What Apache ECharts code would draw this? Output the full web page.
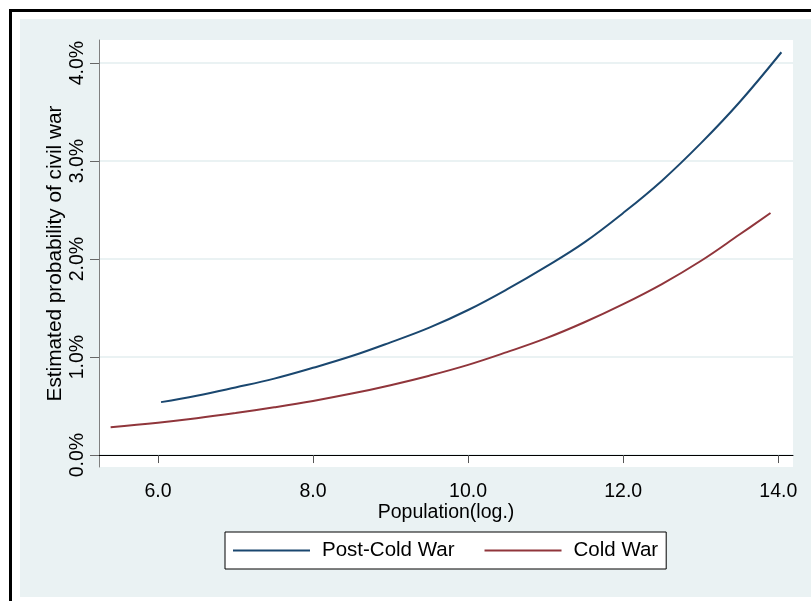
<!DOCTYPE html>
<html>
<head>
<meta charset="utf-8">
<script src="https://cdn.jsdelivr.net/npm/echarts@6/dist/echarts.min.js"></script>
<style>
    html, body {margin:0;padding:0;background:#fff;}
    #chart {width:811px;height:601px;}
</style>
</head>
<body>
<div id="chart"></div>
<script>
    // values
    var postX = [6.04, 6.5, 7.0, 7.5, 8.0, 8.5, 9.0, 9.5, 10.0, 10.5, 11.0, 11.5, 12.0, 12.5, 13.0, 13.5, 14.04];
    var postY = [0.54, 0.605, 0.69, 0.78, 0.89, 1.01, 1.15, 1.30, 1.48, 1.69, 1.92, 2.17, 2.47, 2.80, 3.18, 3.60, 4.11];
    var coldX = [5.39, 6.0, 6.5, 7.0, 7.5, 8.0, 8.5, 9.0, 9.5, 10.0, 10.5, 11.0, 11.5, 12.0, 12.5, 13.0, 13.5, 13.9];
    var coldY = [0.284, 0.33, 0.375, 0.428, 0.487, 0.552, 0.627, 0.713, 0.81, 0.92, 1.05, 1.19, 1.355, 1.54, 1.745, 1.98, 2.25, 2.47];
    var xTicks = [6, 8, 10, 12, 14];
    var yTicks = [0, 1, 2, 3, 4];
    var legendNames = ['Post-Cold War', 'Cold War'];

    var pairs = function (xs, ys) {
        return xs.map(function (x, i) { return [x, ys[i]]; });
    };

    var chart = echarts.init(document.getElementById('chart'));
    var font = 'Liberation Sans, Arial, sans-serif';

    var option = {
        backgroundColor: '#fff',
        animation: false,
        graphic: [
            {type: 'rect', z: -10, shape: {x: 20, y: 19, width: 791, height: 578}, style: {fill: '#eaf2f3'}},
            {type: 'rect', z: -10, shape: {x: 9, y: 9, width: 802, height: 3}, style: {fill: '#000'}},
            {type: 'rect', z: -10, shape: {x: 9, y: 9, width: 3, height: 592}, style: {fill: '#000'}}
        ],
        grid: {
            left: 99, right: 18, top: 40, bottom: 134,
            show: true, backgroundColor: '#fff', borderWidth: 0
        },
        legend: {
            data: legendNames,
            left: 225, top: 532,
            orient: 'horizontal',
            backgroundColor: '#fff',
            borderColor: '#000',
            borderWidth: 1,
            padding: [8, 8, 8, 8],
            itemGap: 30,
            itemWidth: 77,
            itemHeight: 2,
            icon: 'rect',
            textStyle: {fontFamily: font, fontSize: 20.5, color: '#000', padding: [0, 0, 0, 7]}
        },
        xAxis: {
            type: 'value',
            min: 5.24, max: 14.19,
            name: 'Population(log.)',
            nameLocation: 'middle',
            nameGap: 36,
            nameMoveOverlap: false,
            nameTextStyle: {fontFamily: font, fontSize: 19.5, color: '#000'},
            axisLine: {show: true, lineStyle: {color: '#000', width: 1}},
            axisTick: {show: true, length: 8, customValues: xTicks, lineStyle: {color: '#555'}},
            axisLabel: {
                customValues: xTicks, margin: 15,
                fontFamily: font, fontSize: 19.5, color: '#000',
                formatter: function (v) { return v.toFixed(1); }
            },
            splitLine: {show: false}
        },
        yAxis: {
            type: 'value',
            min: -0.122, max: 4.235,
            name: 'Estimated probability of civil war',
            nameLocation: 'middle',
            nameRotate: 90,
            nameGap: 33,
            nameMoveOverlap: false,
            nameTextStyle: {fontFamily: font, fontSize: 20.8, color: '#000'},
            axisLine: {show: true, lineStyle: {color: '#808080', width: 1}},
            axisTick: {show: true, length: 9, customValues: yTicks, lineStyle: {color: '#666'}},
            axisLabel: {
                customValues: yTicks, margin: 11, rotate: 90,
                fontFamily: font, fontSize: 19.5, color: '#000',
                formatter: function (v) { return v.toFixed(1) + '%'; }
            },
            splitLine: {show: true, lineStyle: {color: '#eaf2f3', width: 2}}
        },
        series: [
            {
                name: legendNames[0], type: 'line', data: pairs(postX, postY),
                smooth: 0.4, showSymbol: false, symbol: 'none',
                lineStyle: {color: '#1a476f', width: 2}, itemStyle: {color: '#1a476f'}
            },
            {
                name: legendNames[1], type: 'line', data: pairs(coldX, coldY),
                smooth: 0.4, showSymbol: false, symbol: 'none',
                lineStyle: {color: '#90353b', width: 2}, itemStyle: {color: '#90353b'}
            }
        ]
    };
    chart.setOption(option);
</script>
</body>
</html>
